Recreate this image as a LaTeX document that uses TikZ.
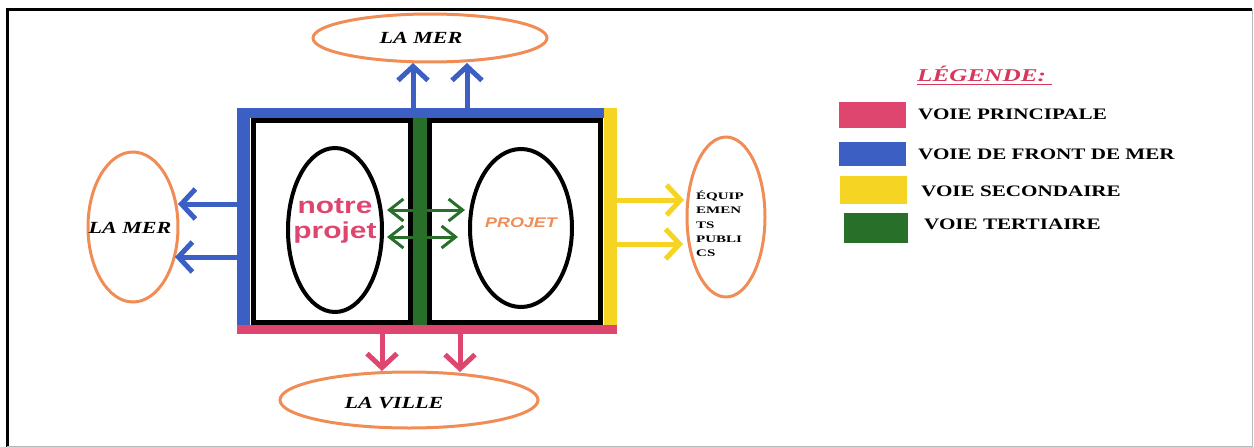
\documentclass[tikz,border=0pt]{standalone}
\usepackage{fontspec}
\setmainfont{Liberation Serif}
\setsansfont{Liberation Sans}
\usetikzlibrary{shapes.geometric,arrows.meta}
\definecolor{roadblue}{RGB}{60,95,195}
\definecolor{roadpink}{RGB}{222,70,112}
\definecolor{roadyellow}{RGB}{245,212,35}
\definecolor{roadgreen}{RGB}{40,112,42}
\definecolor{zoneorange}{RGB}{240,140,85}
\definecolor{titlered}{RGB}{215,55,90}
% horizontally widened text
\newcommand\widen[2]{\scalebox{#1}[1]{#2}}
\begin{document}
\begin{tikzpicture}[x=1pt,y=-1pt,
  zone/.style={draw=zoneorange, line width=3pt, ellipse, inner sep=0pt},
  plot/.style={draw=black, line width=4pt, ellipse, inner sep=0pt},
  place/.style={inner sep=0pt, anchor=base, font=\fontsize{17}{20}\selectfont\bfseries\itshape},
  legendtext/.style={inner sep=0pt, anchor=base west, font=\fontsize{16}{19}\selectfont\bfseries},
  swatch/.style={inner sep=0pt, minimum width=67, minimum height=26},
  road/.style={line width=5pt, -{Straight Barb[length=14pt,width=30pt]}},
  lane/.style={line width=3pt, {Straight Barb[length=14pt,width=22pt]}-{Straight Barb[length=14pt,width=22pt]}}
]
\useasboundingbox (0,0) rectangle (1254,447);

% outer frame
\draw[line width=3pt] (7,447) -- (7,9) -- (1252,9);
\draw[gray!55, line width=1pt] (1252,9) -- (1252,446) -- (7,446);

% roads around the plots
\fill[roadblue] (237,108) rectangle (607,118);
\fill[roadblue] (237,108) rectangle (250,325);
\fill[roadyellow] (604,108) rectangle (617,325);
\fill[roadpink] (237,325) rectangle (617,334);
\fill[roadgreen] (413,118) rectangle (427,325);

% the two plots
\draw[line width=5pt] (253.5,120.5) rectangle (410.5,322.5);
\draw[line width=5pt] (429.5,120.5) rectangle (600.5,322.5);

\node[plot, minimum width=94, minimum height=164] (ourplot) at (335,230) {};
\node[plot, minimum width=102, minimum height=158] (otherplot) at (521,228) {};
\node[inner sep=0pt, anchor=base, text=roadpink, font=\fontsize{23}{26}\selectfont\sffamily\bfseries] (ourl1) at (335,213) {\widen{1.3}{notre}};
\node[inner sep=0pt, anchor=base, text=roadpink, font=\fontsize{23}{26}\selectfont\sffamily\bfseries] (ourl2) at (335,238) {\widen{1.3}{projet}};
\node[inner sep=0pt, anchor=base, text=zoneorange, font=\fontsize{14}{16}\selectfont\sffamily\bfseries\itshape] (otherl) at (521,227) {\widen{1.28}{PROJET}};

% surrounding zones
\node[zone, minimum width=234, minimum height=48] (seatop) at (430,38) {};
\node[place] (seatopl) at (421,43) {\widen{1.3}{LA MER}};
\node[zone, minimum width=90, minimum height=150] (sealeft) at (133,227) {};
\node[place] (sealeftl) at (130,233) {\widen{1.3}{LA MER}};
\node[zone, minimum width=258, minimum height=56] (town) at (409,400) {};
\node[place] (townl) at (394,408) {\widen{1.3}{LA VILLE}};
\node[zone, minimum width=78, minimum height=160] (equip) at (726,217) {};
\node[inner sep=0pt, anchor=north west, align=left, font=\fontsize{10}{14.2}\selectfont\bfseries] (equipl) at (696,191)
  {\widen{1.5}{ÉQUIP}\\\widen{1.5}{EMEN}\\\widen{1.5}{TS}\\\widen{1.5}{PUBLI}\\\widen{1.5}{CS}};

% arrow end points
\coordinate (u1s) at (413,108); \coordinate (u1e) at (413,63);
\coordinate (u2s) at (467,108); \coordinate (u2e) at (467,63);
\coordinate (l1s) at (237,204); \coordinate (l1e) at (178,204);
\coordinate (l2s) at (237,257); \coordinate (l2e) at (175,257);
\coordinate (r1s) at (617,200); \coordinate (r1e) at (684,200);
\coordinate (r2s) at (617,244); \coordinate (r2e) at (683,244);
\coordinate (d1s) at (382,334); \coordinate (d1e) at (382,371);
\coordinate (d2s) at (460,334); \coordinate (d2e) at (460,372);
\coordinate (g1a) at (387,210); \coordinate (g1b) at (465,210);
\coordinate (g2a) at (387,237); \coordinate (g2b) at (458,237);

\draw[road, roadblue] (u1s) -- (u1e);
\draw[road, roadblue] (u2s) -- (u2e);
\draw[road, roadblue] (l1s) -- (l1e);
\draw[road, roadblue] (l2s) -- (l2e);
\draw[road, roadyellow] (r1s) -- (r1e);
\draw[road, roadyellow] (r2s) -- (r2e);
\draw[road, roadpink] (d1s) -- (d1e);
\draw[road, roadpink] (d2s) -- (d2e);
\draw[lane, roadgreen] (g1a) -- (g1b);
\draw[lane, roadgreen] (g2a) -- (g2b);

% legend
\node[inner sep=0pt, anchor=base west, text=titlered, font=\fontsize{18}{20}\selectfont\bfseries\itshape] (legtitle) at (917,81) {\widen{1.4}{LÉGENDE:}};
\draw[titlered, line width=1.5pt] (legtitle.base west) ++(0,3.5) -- ++(135,0);
\node[swatch, fill=roadpink, anchor=north west] (sw1) at (839,102) {};
\node[swatch, fill=roadblue, anchor=north west, minimum height=24] (sw2) at (839,142) {};
\node[swatch, fill=roadyellow, anchor=north west, minimum height=28] (sw3) at (840,176) {};
\node[swatch, fill=roadgreen, anchor=north west, minimum width=64, minimum height=30] (sw4) at (844,213) {};
\node[legendtext] (lg1) at (918,119) {\widen{1.32}{VOIE PRINCIPALE}};
\node[legendtext] (lg2) at (918,159) {\widen{1.32}{VOIE DE FRONT DE MER}};
\node[legendtext] (lg3) at (921,196) {\widen{1.32}{VOIE SECONDAIRE}};
\node[legendtext] (lg4) at (924,229) {\widen{1.32}{VOIE TERTIAIRE}};
\end{tikzpicture}
\end{document}
